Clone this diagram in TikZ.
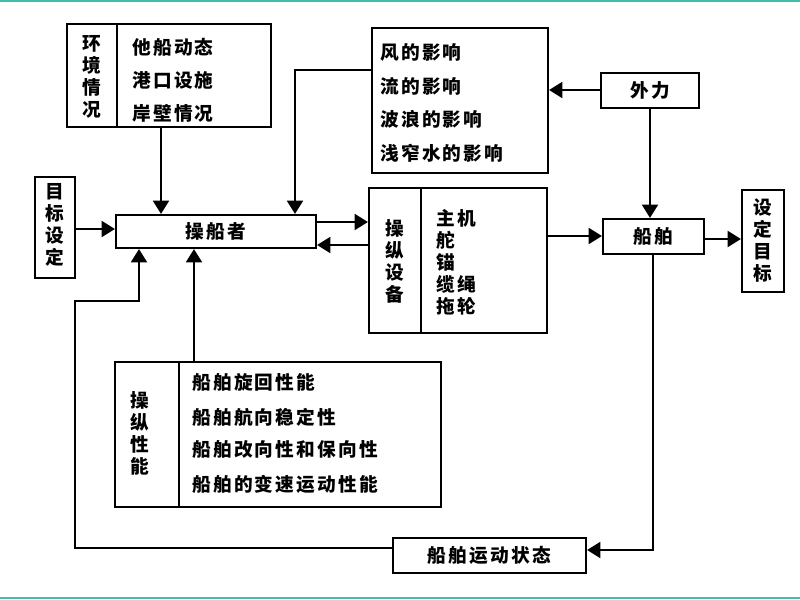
\documentclass[tikz,border=0pt]{standalone}
\usepackage{fontspec}
\setmainfont{Noto Sans CJK SC}[LetterSpace=12]
\usetikzlibrary{arrows.meta,fit}
\definecolor{tealline}{HTML}{3EBFA9}
\begin{document}
\begin{tikzpicture}[x=0.75pt,y=-0.75pt,
  box/.style={draw, line width=1.6pt, inner sep=0pt},
  lbl/.style={font=\fontsize{14}{16.5}\selectfont\bfseries, inner sep=0pt},
  vlbl/.style={lbl, align=center},
  item/.style={lbl, anchor=west},
  conn/.style={line width=1.6pt},
  arr/.style={conn, -{Triangle[length=10pt,width=12pt]}}]
\useasboundingbox[fill=white] (0,0) rectangle (800,600);
% teal frame lines
\fill[tealline] (0,0) rectangle (800,2);
\fill[tealline] (0,597) rectangle (800,599);

% boxes
\node[box, fit={(67,24) (271,127)}] (env) {};
\node[box, fit={(35,177) (75,278)}] (goal) {};
\node[box, fit={(116,215) (316,248)}] (czz) {};
\node[box, fit={(372,28) (548,173)}] (wind) {};
\node[box, fit={(601,73) (699,108)}] (force) {};
\node[box, fit={(369,188) (547,333)}] (dev) {};
\node[box, fit={(603,219) (704,254)}] (ship) {};
\node[box, fit={(742,190) (784,292)}] (target) {};
\node[box, fit={(115,362) (441,507)}] (perf) {};
\node[box, fit={(393,538) (586,573)}] (state) {};

% dividers
\draw[conn] (env.north -| 117,0) -- (env.south -| 117,0);
\draw[conn] (dev.north -| 421,0) -- (dev.south -| 421,0);
\draw[conn] (perf.north -| 179,0) -- (perf.south -| 179,0);

% texts
\node[vlbl] (envL) at (92,76.5) {环\\境\\情\\况};
\node[item] (env1) at (132,47) {他船动态};
\node[item] (env2) at (132,80) {港口设施};
\node[item] (env3) at (132,113) {岸壁情况};

\node[vlbl] (goalT) at (55,225) {目\\标\\设\\定};
\node[lbl] (czzT) at (216,231.5) {操船者};

\node[item] (w1) at (380,52) {风的影响};
\node[item] (w2) at (380,86) {流的影响};
\node[item] (w3) at (380,119) {波浪的影响};
\node[item] (w4) at (380,153) {浅窄水的影响};

\node[lbl] (forceT) at (650,90.5) {外力};

\node[vlbl] (devL) at (395,261.5) {操\\纵\\设\\备};
\node[item] (d1) at (436,218) {主机};
\node[item] (d2) at (436,240) {舵};
\node[item] (d3) at (436,262) {锚};
\node[item] (d4) at (436,284) {缆绳};
\node[item] (d5) at (436,306) {拖轮};

\node[lbl] (shipT) at (653.5,236.5) {船舶};
\node[vlbl] (targetT) at (763,240) {设\\定\\目\\标};

\node[vlbl] (perfL) at (140,433.5) {操\\纵\\性\\能};
\node[item] (p1) at (192,383) {船舶旋回性能};
\node[item] (p2) at (192,417) {船舶航向稳定性};
\node[item] (p3) at (192,450) {船舶改向性和保向性};
\node[item] (p4) at (192,484) {船舶的变速运动性能};

\node[lbl] (stateT) at (489.5,555.5) {船舶运动状态};

% connectors
\draw[arr] (env.south -| 161,0) -- (czz.north -| 161,0);
\draw[arr] (wind.west |- 0,70) -- (295,70) -- (czz.north -| 295,0);
\draw[arr] (goal.east |- 0,229) -- (czz.west |- 0,229);
\draw[arr] (czz.east |- 0,222) -- (dev.west |- 0,222);
\draw[arr] (dev.west |- 0,245) -- (czz.east |- 0,245);
\draw[arr] (force.west |- 0,90) -- (wind.east |- 0,90);
\draw[arr] (force.south -| 650,0) -- (ship.north -| 650,0);
\draw[arr] (dev.east |- 0,236) -- (ship.west |- 0,236);
\draw[arr] (ship.east |- 0,239) -- (target.west |- 0,239);
\draw[arr] (ship.south -| 653,0) -- (653,550) -- (state.east |- 0,550);
\draw[arr] (state.west |- 0,548) -- (75,548) -- (75,301) -- (139,301) -- (czz.south -| 139,0);
\draw[arr] (perf.north -| 194,0) -- (czz.south -| 194,0);
\end{tikzpicture}
\end{document}
